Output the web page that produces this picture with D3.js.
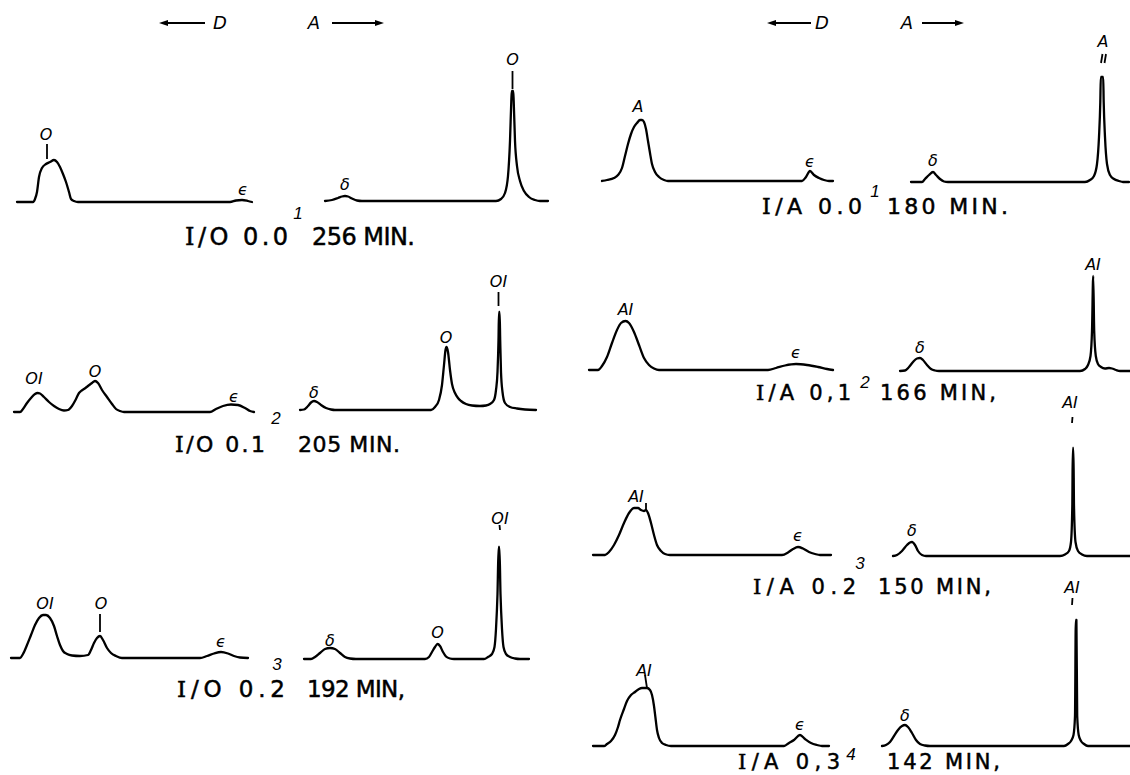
<!DOCTYPE html>
<html>
<head>
<meta charset="utf-8">
<script src="https://cdn.jsdelivr.net/npm/d3@7"></script>
<style>
body { margin: 0; background: #fff; }
svg { display: block; }
</style>
</head>
<body>
<script>
// tracings: [scan position, deflection]
// I/O series (left column)
const io00D = [[17,0],[33,0],[35,3],[37,10],[39,25],[42,34],[46,38],[50,40],[54,42],[57,40],[60,35],[63,28],[66,20],[69,10],[71,3],[74,1],[78,0],[230,0],[236,1.5],[242,2],[248,1],[252,0]]
const io00A = [[325,0],[332,1],[338,3],[342,4.5],[345,5],[348,4.5],[352,2.5],[357,0.5],[362,0],[496,0],[501,2],[505,8],[508,25],[510,60],[511.3,100],[511.8,110],[513.2,110],[513.7,100],[515,60],[517,35],[520,20],[524,10],[529,4],[535,1],[540,0],[548,0]]
const io01D = [[14,0],[20,0],[23,3],[27,9],[31,14],[35,18],[37.5,19],[40,18.5],[44,15],[49,10],[54,6],[59,3],[64,1.5],[68,2],[72,6],[76,13],[79,19],[81,21],[84,23],[88,26],[92,29],[95,31],[98,29],[102,22],[107,15],[112,8],[116,3],[120,1],[124,0],[210,0],[216,3],[223,6],[231,7.5],[238,7],[245,4],[250,1],[254,0]]
const io01A = [[300,0],[304,0.5],[308,4],[311,7.5],[314,9],[317,8],[321,5],[326,2],[331,0.5],[335,0],[431,0],[435,3],[439,10],[442,25],[444,45],[445.5,60],[446.5,63],[448,58],[450,40],[452,26],[455,17],[458,12],[461,9],[466,6],[472,4.5],[480,4],[486,4.5],[490,6],[494,10],[496,20],[497.5,38],[498.5,70],[499,98],[499.6,98],[500.2,70],[501,38],[502.5,18],[505,7],[510,3],[517,1.5],[525,0.5],[536,0]]
const io02D = [[11,0],[20,0],[23,4],[27,13],[31,23],[35,33],[39,40],[43,43],[46,43],[50,40],[54,32],[57,22],[60,13],[63,7],[67,4],[72,2.5],[80,2],[88,3],[91,8],[94,15],[97,20],[100,22],[103,18],[107,10],[111,5],[116,2],[122,0],[200,0],[207,2],[214,4.5],[221,6],[228,4.5],[234,2],[240,0.5],[248,0]]
const io02A = [[304,0],[311,0],[315,2],[320,6],[325,10],[330,11],[335,10],[340,6],[345,2],[350,0.5],[356,0],[425,0],[429,2],[432,7],[435,12],[437.5,15],[440,13],[443,7],[446,2.5],[450,0.5],[454,0],[484,0],[488,2],[492,5],[494.5,12],[496,30],[497.5,65],[498.6,112],[499.4,112],[500.5,65],[502,30],[503.5,12],[506,5],[510,2],[515,0.5],[520,0],[529,0]]

// I/A series (right column)
const ia00D = [[42,0],[47,1],[54,3],[58,6],[62,13],[65,25],[68,37],[71,47],[74,54],[77,58],[80,61],[82,61],[84,59],[86,52],[88,40],[90,28],[92,17],[95,9],[99,4],[104,1],[108,0],[242,0],[246,4],[250,10],[254,6],[259,3],[264,1],[269,0],[273,0]]
const ia00A = [[351,0],[362,0],[365,3],[369,7],[373,10],[376,7],[380,3],[384,0.5],[388,0],[525,0],[530,2],[534,6],[537,18],[539,45],[540.3,80],[540.8,105],[543.2,105],[543.7,80],[545,45],[547,18],[550,7],[554,3],[559,1],[563,0],[569,0]]
const ia01D = [[29,0],[38,0],[42,4],[47,13],[52,27],[57,40],[61,47],[65.5,49],[69,47],[74,38],[79,25],[84,12],[89,5],[94,1.5],[99,0],[208,0],[216,2],[225,4.5],[236,6],[247,5],[258,3],[267,1],[273,0]]
const ia01A = [[340,0],[345,0.5],[349,4],[353,9],[357,12.5],[360,13],[363,11],[367,6],[371,2],[375,0.5],[379,0],[520,0],[525,2],[528,6],[530.5,15],[532,40],[533.2,95],[534.2,40],[535.8,15],[538,7],[541,4],[545,2.5],[549,3],[552,2.5],[556,1],[560,0],[570,0]]
const ia02D = [[33,0],[45,0],[49,3],[54,10],[59,20],[64,32],[69,42],[74,47],[78,47],[81,45],[84,44],[86,45],[88,42],[91,32],[94,20],[97,10],[101,4],[105,1],[110,0],[222,0],[228,2.5],[233,6],[238,8],[243,6.5],[249,3],[255,1],[260,0],[271,0]]
const ia02A = [[333,0],[337,1],[342,5],[347,11],[350,13.5],[352,14],[355,11],[358,5],[362,1],[366,0],[500,0],[505,1.5],[509,5],[511,14],[512.3,50],[512.8,108],[513.4,108],[514,50],[515.5,14],[518,5],[522,1.5],[527,0],[570,0]]
const ia03D = [[33,0],[44,0],[47,2],[51,5],[55,11],[58,19],[60,26],[64,37],[67,45],[71,51],[75,54],[79,57],[82,58],[87,58],[90,56],[92,51],[94,40],[95.5,28],[97,16],[99,8],[102,3],[106,1],[111,0],[224,0],[229,3],[234,6],[240,11],[245,7],[251,3],[257,1],[262,0],[269,0]]
const ia03A = [[322,0],[326,1],[330,4],[334,10],[338,16],[342,20],[345,21],[348,19],[352,13],[356,6],[360,2],[365,0.5],[370,0],[504,0],[508,2],[511,5],[513.5,11],[515,30],[515.8,126],[516.4,126],[517.2,30],[518.7,11],[521,5],[524,2],[528,0],[570,0]]

// peak names: [text, scan position, deflection, half]
const io00Peaks = [['O',46,68,'D'],['ϵ',243,13,'D'],['δ',345,17,'A'],['O',512.5,142,'A']]
const io01Peaks = [['OI',34,34,'D'],['O',95,41,'D'],['ϵ',234,16,'D'],['δ',314,18,'A'],['O',446,73,'A'],['OI',498.5,129,'A']]
const io02Peaks = [['OI',45,55,'D'],['O',101,55,'D'],['ϵ',221,17,'D'],['δ',330,19,'A'],['O',437.5,27,'A'],['OI',500,141,'A']]
const ia00Peaks = [['A',78,75,'D'],['ϵ',250,20,'D'],['δ',373,22,'A'],['A',543,141,'A']]
const ia01Peaks = [['AI',65.5,61,'D'],['ϵ',236,18,'D'],['δ',360,24,'A'],['AI',533,107,'A']]
const ia02Peaks = [['AI',76,59,'D'],['ϵ',238,20,'D'],['δ',352,26,'A'],['AI',510,154,'A']]
const ia03Peaks = [['AI',84,76,'D'],['ϵ',240,22,'D'],['δ',345,31,'A'],['AI',512,159,'A']]

// leader strokes from name to peak: [x1, h1, x2, h2, half]
const io00Leads = [[47,43,47,58,'D'],[512.5,112,512.5,130,'A']]
const io01Leads = [[498.5,104,498.5,118,'A']]
const io02Leads = [[100,26,100,44,'D'],[500,129,499.5,134,'A']]
const ia00Leads = [[541,119,542.5,128,'A'],[544.5,119,546,128,'A']]
const ia01Leads = []
const ia02Leads = [[86,45,86,52,'D'],[512,133,512.5,139,'A']]
const ia03Leads = [[87,58,85,71,'D'],[512,141,512.5,148,'A']]

const ioRuns = ['I/O 0.0', 'I/O 0.1', 'I/O 0.2']
const ioTimes = ['256 MIN.', '205 MIN.', '192 MIN,']
const iaRuns = ['I/A 0.0', 'I/A 0,1', 'I/A 0.2', 'I/A 0,3']
const iaTimes = ['180 MIN.', '166 MIN,', '150 MIN,', '142 MIN,']
const figNums = ['1', '2', '3', '4']
const directions = ['D', 'A']

// layout of the seven strips
var panels = [
    {col: 0, d: io00D, a: io00A, peaks: io00Peaks, leads: io00Leads, run: ioRuns[0], time: ioTimes[0], num: figNums[0],
     baseD: 202, baseA: 201, capY: 245, capSize: 24, runX: 185, runW: 103, timeX: 312, timeW: 103, numX: 298, numY: 213},
    {col: 0, d: io01D, a: io01A, peaks: io01Peaks, leads: io01Leads, run: ioRuns[1], time: ioTimes[1], num: figNums[1],
     baseD: 412, baseA: 410, capY: 452, capSize: 22, runX: 175, runW: 90, timeX: 298, timeW: 102, numX: 276, numY: 418},
    {col: 0, d: io02D, a: io02A, peaks: io02Peaks, leads: io02Leads, run: ioRuns[2], time: ioTimes[2], num: figNums[2],
     baseD: 658, baseA: 659, capY: 697, capSize: 23, runX: 177, runW: 108, timeX: 307, timeW: 98, numX: 277, numY: 664},
    {col: 560, d: ia00D, a: ia00A, peaks: ia00Peaks, leads: ia00Leads, run: iaRuns[0], time: iaTimes[0], num: figNums[0],
     baseD: 181, baseA: 182, capY: 214, capSize: 22, runX: 762, runW: 100, timeX: 887, timeW: 121, numX: 875, numY: 191},
    {col: 560, d: ia01D, a: ia01A, peaks: ia01Peaks, leads: ia01Leads, run: iaRuns[1], time: iaTimes[1], num: figNums[1],
     baseD: 370, baseA: 371, capY: 400, capSize: 21, runX: 756, runW: 95, timeX: 880, timeW: 116, numX: 865, numY: 382},
    {col: 560, d: ia02D, a: ia02A, peaks: ia02Peaks, leads: ia02Leads, run: iaRuns[2], time: iaTimes[2], num: figNums[2],
     baseD: 555, baseA: 556, capY: 594, capSize: 21, runX: 753, runW: 103, timeX: 878, timeW: 113, numX: 860, numY: 563},
    {col: 560, d: ia03D, a: ia03A, peaks: ia03Peaks, leads: ia03Leads, run: iaRuns[3], time: iaTimes[3], num: figNums[3],
     baseD: 746, baseA: 746, capY: 769, capSize: 21, runX: 738, runW: 102, timeX: 887, timeW: 113, numX: 851, numY: 754}
]

var width = 1130,
    height = 775
var svg = d3.select('body').append('svg')
    .attr('width', width)
    .attr('height', height)

var labelFont = 'DejaVu Sans'

panels.forEach(p => {
    var x = d3.scaleLinear().domain([0, 560]).range([p.col, p.col + 560])
    var ys = {
        D: d3.scaleLinear().domain([0, 100]).range([p.baseD, p.baseD - 100]),
        A: d3.scaleLinear().domain([0, 100]).range([p.baseA, p.baseA - 100])
    }
    var g = svg.append('g')

    ;[['D', p.d], ['A', p.a]].forEach(([half, pts]) => {
        var line = d3.line()
            .x(d => x(d[0]))
            .y(d => ys[half](d[1]))
            .curve(d3.curveMonotoneX)
        g.append('path')
            .datum(pts)
            .attr('d', line)
            .attr('fill', 'none')
            .attr('stroke', '#000')
            .attr('stroke-width', 2.3)
            .attr('stroke-linejoin', 'round')
            .attr('stroke-linecap', 'round')
    })

    g.selectAll('line.lead')
        .data(p.leads).enter()
        .append('line')
        .attr('x1', d => x(d[0]))
        .attr('y1', d => ys[d[4]](d[1]))
        .attr('x2', d => x(d[2]))
        .attr('y2', d => ys[d[4]](d[3]))
        .attr('stroke', '#000')
        .attr('stroke-width', 1.8)

    g.selectAll('text.peak')
        .data(p.peaks).enter()
        .append('text')
        .attr('x', d => x(d[1]))
        .attr('y', d => ys[d[3]](d[2]))
        .attr('dy', '0.35em')
        .attr('text-anchor', 'middle')
        .attr('font-family', labelFont)
        .attr('font-style', 'italic')
        .attr('font-size', 16)
        .text(d => d[0])

    // caption: run label, figure number, running time
    var run = g.append('text')
        .attr('x', p.runX)
        .attr('y', p.capY)
        .attr('font-family', 'DejaVu Sans')
        .attr('font-size', p.capSize)
        .attr('stroke', '#000')
        .attr('stroke-width', 0.5)
        .attr('textLength', p.runW)
        .attr('lengthAdjust', 'spacing')
    run.append('tspan').attr('font-family', 'DejaVu Serif').text(p.run.slice(0, 1))
    run.append('tspan').text(p.run.slice(1))

    g.append('text')
        .attr('x', p.timeX)
        .attr('y', p.capY)
        .attr('font-family', 'DejaVu Sans')
        .attr('font-size', p.capSize)
        .attr('stroke', '#000')
        .attr('stroke-width', 0.5)
        .attr('textLength', p.timeW)
        .attr('lengthAdjust', 'spacing')
        .text(p.time)

    g.append('text')
        .attr('x', p.numX)
        .attr('y', p.numY)
        .attr('dy', '0.35em')
        .attr('text-anchor', 'middle')
        .attr('font-family', 'Liberation Sans')
        .attr('font-style', 'italic')
        .attr('font-size', 17)
        .text(p.num)
})

// direction arrows above each column
var arrowSets = [
    {y: 23, dLine: [159, 205], dText: 220, aText: 314, aLine: [332, 384]},
    {y: 23, dLine: [767, 811], dText: 822, aText: 907, aLine: [922, 964]}
]
arrowSets.forEach(s => {
    svg.append('line')
        .attr('x1', s.dLine[0] + 6).attr('x2', s.dLine[1])
        .attr('y1', s.y).attr('y2', s.y)
        .attr('stroke', '#000').attr('stroke-width', 2)
    svg.append('path')
        .attr('d', d3.line()([[s.dLine[0], s.y], [s.dLine[0] + 9, s.y - 3], [s.dLine[0] + 9, s.y + 3]]) + 'Z')
        .attr('fill', '#000')
    svg.append('line')
        .attr('x1', s.aLine[0]).attr('x2', s.aLine[1] - 6)
        .attr('y1', s.y).attr('y2', s.y)
        .attr('stroke', '#000').attr('stroke-width', 2)
    svg.append('path')
        .attr('d', d3.line()([[s.aLine[1], s.y], [s.aLine[1] - 9, s.y - 3], [s.aLine[1] - 9, s.y + 3]]) + 'Z')
        .attr('fill', '#000')
    svg.selectAll(null)
        .data([[directions[0], s.dText], [directions[1], s.aText]]).enter()
        .append('text')
        .attr('x', d => d[1])
        .attr('y', s.y)
        .attr('dy', '0.35em')
        .attr('text-anchor', 'middle')
        .attr('font-family', labelFont)
        .attr('font-style', 'italic')
        .attr('font-size', 18)
        .text(d => d[0])
})
</script>
</body>
</html>
